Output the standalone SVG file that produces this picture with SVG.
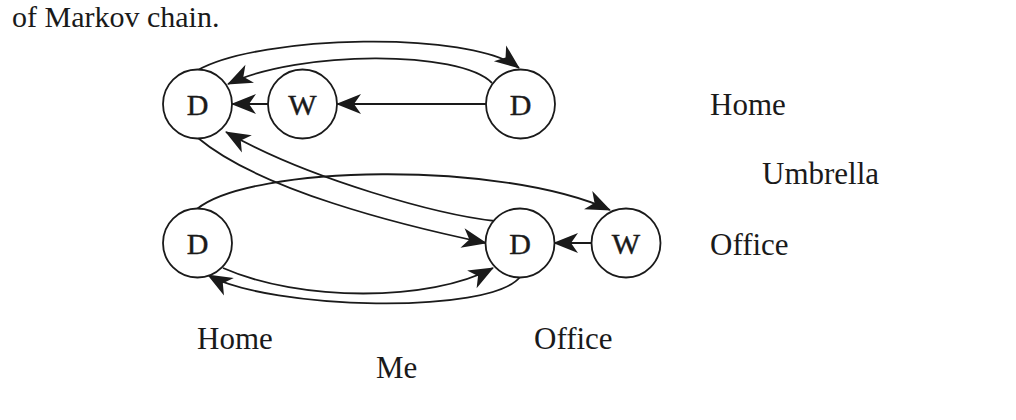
<svg xmlns="http://www.w3.org/2000/svg" width="1016" height="420" viewBox="0 0 1016 420">
<style>
.n{fill:#fff;stroke:#1a1a1a;stroke-width:1.8}
.t{font-family:"Liberation Serif","Times New Roman",serif;fill:#1a1a1a}
.nl{font-size:30px;text-anchor:middle;stroke:#1a1a1a;stroke-width:0.4}
.lb{font-size:31px}
.e{fill:none;stroke:#1a1a1a;stroke-width:1.8;marker-end:url(#ah)}
</style>
<defs>
<marker id="ah" markerUnits="userSpaceOnUse" markerWidth="30" markerHeight="24" viewBox="-28 -12 30 24" refX="0" refY="0" orient="auto" overflow="visible">
<path d="M1,0 L-24,-10 L-17,0 L-24,10 Z" fill="#1a1a1a"/>
</marker>
</defs>
<rect width="1016" height="420" fill="#fff"/>
<text class="t" x="12" y="27" font-size="30">of Markov chain.</text>
<g id="connectors">
<path class="e" d="M198,70 C 260,35 470,30 519,68"/>
<path class="e" d="M492,83 C 460,50 300,50 228,84"/>
<path class="e" d="M268,104 L232,104"/>
<path class="e" d="M486,104 L337,104"/>
<path class="e" d="M198,138 C 260,190 400,225 486,243"/>
<path class="e" d="M495,221 C 440,215 310,180 226,132"/>
<path class="e" d="M197,209 C 250,165 500,160 610,210"/>
<path class="e" d="M592,243 L554,243"/>
<path class="e" d="M223,268 C 300,302 430,302 493,268"/>
<path class="e" d="M520,277 C 490,315 270,310 208,275"/>
</g>
<g id="home-me-top">
<circle class="n" cx="197.5" cy="104" r="34.5"/>
<text class="t nl" x="197.5" y="115">D</text>
</g>
<g id="home-umbrella-top">
<circle class="n" cx="302.5" cy="104" r="34.5"/>
<text class="t nl" x="302.5" y="115">W</text>
</g>
<g id="office-me-top">
<circle class="n" cx="520.5" cy="104" r="34.5"/>
<text class="t nl" x="520.5" y="115">D</text>
</g>
<g id="home-me-bottom">
<circle class="n" cx="197.5" cy="243" r="34.5"/>
<text class="t nl" x="197.5" y="254">D</text>
</g>
<g id="office-me-bottom">
<circle class="n" cx="520" cy="243" r="34.5"/>
<text class="t nl" x="520" y="254">D</text>
</g>
<g id="office-umbrella-bottom">
<circle class="n" cx="626" cy="243" r="34.5"/>
<text class="t nl" x="626" y="254">W</text>
</g>
<g id="labels">
<text class="t lb" x="710" y="115">Home</text>
<text class="t lb" x="762" y="184">Umbrella</text>
<text class="t lb" x="710" y="255">Office</text>
<text class="t lb" x="197" y="349">Home</text>
<text class="t lb" x="534" y="349">Office</text>
<text class="t lb" x="376" y="378">Me</text>
</g>
</svg>
